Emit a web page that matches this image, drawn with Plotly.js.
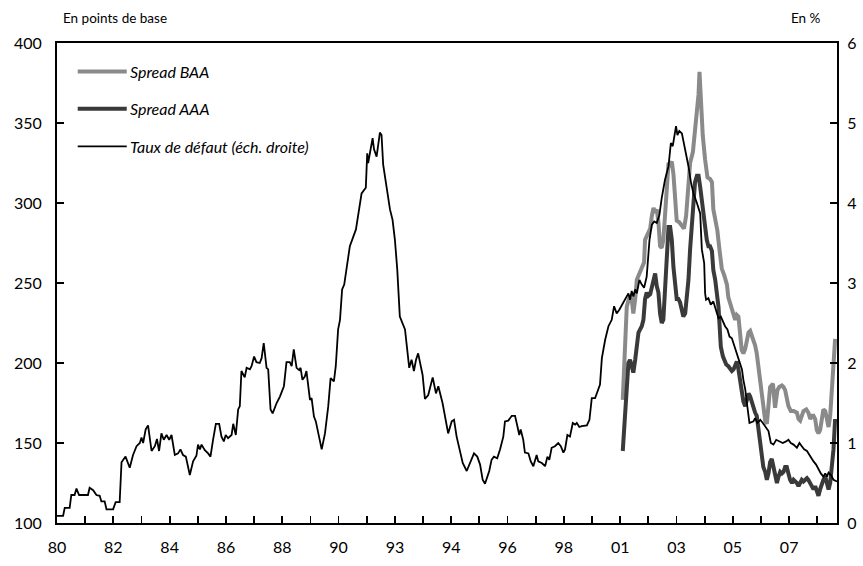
<!DOCTYPE html>
<html>
<head>
<meta charset="utf-8">
<script src="https://cdn.plot.ly/plotly-3.0.1.min.js"></script>
<style>html,body{margin:0;padding:0;background:#fff}#chart{width:863px;height:566px}</style>
</head>
<body>
<div id="chart"></div>
<script>
// x = month index from Jan 1980
const tickMonths = [0,12,24,36,48,60,72,84,96,108,120,132,144,156,168,180,192,204,216,228,240,252,264,276,288,300,312,324];
const tickLabels = ["80","","82","","84","","86","","88","","90","","93","","94","","96","","98","","01","","03","","05","","07",""];

// Taux de défaut (%, right axis)
const defMonth = [0,2.6,3.3,5.4,6.1,7.5,8.3,9.4,13.2,13.9,15.4,16.8,18.2,18.9,20.3,21.1,23.9,25.0,26.7,27.5,29.2,31.0,32.4,33.9,35.3,36.0,36.7,37.8,38.8,40.3,41.7,42.6,43.5,44.5,45.5,46.7,47.8,48.8,50.2,51.6,52.6,53.7,54.9,55.6,56.6,58.0,59.4,60.1,60.9,61.6,63.0,64.4,65.4,66.5,67.7,69.1,70.1,71.1,71.9,72.9,74.4,75.1,76.2,77.2,77.9,78.6,80.0,80.8,82.2,82.9,84.0,85.0,86.4,87.2,88.1,89.3,90.0,91.0,91.9,93.6,95.0,96.7,97.8,99.2,100.0,100.9,102.1,103.2,103.8,104.6,105.6,106.3,107.0,107.8,108.5,109.5,110.3,111.3,112.8,114.2,115.6,116.6,118.0,118.8,119.8,120.6,121.5,122.4,124.8,127.4,129.8,131.6,132.2,132.6,133.3,134.5,135.1,136.2,137.6,138.3,139.0,141.9,143.0,144.0,145.0,146.1,148.3,149.0,150.1,151.1,152.1,153.0,153.9,155.8,156.8,158.2,160.1,161.5,162.5,164.3,166.1,166.7,168.2,169.2,170.3,171.4,172.9,174.6,176.0,177.7,179.1,180.3,181.4,182.4,184.2,185.2,186.2,187.6,188.8,190.2,190.9,192.3,193.8,195.2,196.2,197.0,197.6,198.7,199.4,200.9,201.9,203.0,204.4,205.1,206.6,208.0,209.0,209.8,210.8,212.2,213.6,214.7,215.8,216.5,217.5,218.6,219.8,220.8,221.5,222.6,223.6,225.8,226.9,227.9,229.3,230.0,231.4,232.2,233.6,235.0,236.4,237.4,238.5,239.7,241.1,242.5,243.5,244.2,244.9,245.6,246.4,247.1,248.2,249.2,250.2,251.3,252.5,253.5,254.5,255.6,256.7,257.7,259.1,260.6,261.6,262.4,263.0,263.8,264.4,265.2,266.3,266.9,268.1,269.1,270.1,271.2,272.7,274.1,274.8,275.8,276.2,276.6,277.6,278.6,279.7,280.9,281.9,282.9,283.8,284.7,285.7,286.6,287.6,288.3,289.0,290.0,290.8,291.9,292.5,293.3,294.0,295.1,296.8,297.5,298.5,299.7,300.8,301.8,303.2,304.2,305.3,306.5,307.9,309.3,310.7,311.7,312.7,313.9,315.3,316.4,317.4,318.4,319.6,321.0,322.4,323.5,324.5,325.5,326.6,327.4,328.1,328.8,329.8,330.9,332.4];
const defRate = [0.09,0.09,0.19,0.19,0.35,0.35,0.43,0.35,0.35,0.44,0.41,0.35,0.34,0.27,0.27,0.17,0.17,0.26,0.26,0.76,0.83,0.69,0.85,0.96,1.0,1.07,1.0,1.17,1.22,0.9,0.96,1.05,0.9,1.12,1.04,1.1,1.04,1.1,0.85,0.87,0.92,0.85,0.83,0.75,0.6,0.77,0.84,0.98,0.92,0.98,0.91,0.87,0.83,1.04,1.24,1.24,1.08,1.02,1.1,1.06,1.1,1.24,1.1,1.42,1.46,1.9,1.82,1.94,1.92,1.96,2.08,2.01,2.0,2.06,2.25,1.94,1.92,1.42,1.37,1.5,1.58,1.71,2.01,2.01,1.96,2.17,1.94,1.91,1.94,1.79,1.83,1.9,1.75,1.54,1.56,1.33,1.27,1.12,0.92,1.12,1.46,1.81,1.77,1.96,2.42,2.54,2.92,2.98,3.46,3.67,4.12,4.19,4.62,4.5,4.62,4.81,4.67,4.58,4.88,4.85,4.48,3.92,3.79,3.54,3.17,2.58,2.42,2.25,1.94,2.04,1.9,2.04,2.12,1.85,1.55,1.6,1.82,1.62,1.71,1.5,1.21,1.12,1.27,1.29,1.08,0.94,0.75,0.65,0.75,0.87,0.83,0.73,0.54,0.49,0.65,0.79,0.83,0.81,0.92,1.08,1.27,1.28,1.34,1.34,1.21,1.1,1.17,1.04,0.88,0.87,0.77,0.71,0.85,0.77,0.75,0.71,0.83,0.79,0.94,0.96,1.0,0.96,0.88,0.92,1.1,1.08,1.25,1.23,1.25,1.2,1.21,1.22,1.29,1.56,1.56,1.62,1.73,2.06,2.29,2.46,2.54,2.71,2.62,2.67,2.75,2.81,2.87,2.79,2.9,2.83,2.92,2.87,3.04,2.98,2.94,3.08,3.54,3.73,3.77,3.75,3.85,4.06,4.29,4.46,4.75,4.71,4.81,4.96,4.85,4.9,4.87,4.79,4.62,4.46,4.27,4.12,4.0,3.87,3.42,3.25,2.87,2.79,2.81,2.73,2.77,2.65,2.56,2.58,2.52,2.46,2.42,2.33,2.31,2.25,2.17,2.08,2.02,1.92,1.79,1.67,1.5,1.25,1.27,1.31,1.25,1.29,1.25,1.21,1.15,1.0,0.98,1.04,1.02,1.0,1.02,1.04,1.0,0.98,0.94,1.0,0.96,0.92,0.9,0.83,0.77,0.73,0.67,0.62,0.58,0.62,0.58,0.63,0.6,0.54,0.52];

// Spread BAA (bp, left axis)
const baaMonth = [241.1,242.1,242.8,243.5,244.2,244.9,245.6,246.4,247.1,248.2,249.2,250.2,250.6,252.0,252.8,253.5,254.2,254.9,255.6,256.3,257.0,257.7,258.4,259.1,259.9,260.6,261.3,262.0,262.7,263.4,264.1,265.2,266.3,267.2,268.1,269.1,269.8,271.0,271.9,272.7,273.4,273.8,274.4,275.2,276.2,277.2,278.3,279.1,279.7,280.9,281.4,282.3,283.3,284.3,285.5,286.1,286.9,287.6,288.3,289.0,289.7,290.4,290.8,291.4,291.8,292.5,293.3,294.0,294.7,295.4,296.1,296.8,297.5,298.2,298.9,299.6,300.4,301.0,301.8,302.5,303.2,303.9,305.1,306.0,307.0,307.8,308.9,309.6,310.3,311.0,311.7,312.7,313.9,315.3,316.0,316.7,317.4,318.1,319.3,320.2,321.0,321.7,322.4,323.1,323.8,324.5,325.2,325.9,326.6,327.4,328.1,328.8,329.5,330.2,330.9,331.6];
const baaSpread = [177,218,235,239,242,240,231,240,252,256,260,263,277,281,284,292,297,294,296,288,273,272,277,292,310,325,324,326,318,300,289,288,286,284,292,308,325,332,345,354,368,382,358,342,327,316,315,313,296,288,283,271,259,255,249,241,237,232,229,227,230,229,223,210,208,206,209,214,219,220,217,214,211,206,198,188,177,171,164,162,175,185,187,172,183,185,186,185,183,179,173,170,170,169,165,164,167,170,171,169,165,167,167,165,158,156,158,167,171,170,163,160,167,183,202,215];

// Spread AAA (bp, left axis)
const aaaMonth = [241.1,242.1,242.8,243.5,244.2,244.9,245.6,246.4,247.1,247.8,248.5,249.2,249.9,250.6,251.3,252.0,252.8,253.5,254.2,254.9,255.6,256.3,257.0,257.7,258.4,259.1,259.9,260.6,261.3,262.0,262.7,263.4,264.1,264.8,265.5,266.3,266.9,267.7,268.4,269.1,269.8,270.5,271.2,271.9,272.7,273.4,274.1,274.8,275.5,276.2,276.9,277.6,278.3,279.1,279.7,280.5,281.2,281.9,282.3,282.9,283.8,284.3,285.2,286.1,286.9,287.6,288.3,289.0,289.7,290.4,291.1,291.8,292.5,293.3,294.0,294.7,295.4,296.1,296.8,297.5,298.2,298.9,299.6,300.4,301.0,301.8,302.5,303.2,303.9,304.6,305.3,306.0,306.8,307.5,308.2,308.9,309.6,310.3,311.0,311.7,312.4,313.2,313.9,314.6,315.3,316.0,316.7,317.4,318.1,318.9,319.6,320.2,321.0,321.7,322.4,323.1,323.8,324.5,325.2,325.9,326.6,327.4,328.1,328.8,329.5,330.2,330.9,331.6];
const aaaSpread = [145,169,183,200,202,198,194,202,213,219,221,223,227,240,244,242,243,248,252,256,248,244,231,225,227,248,271,285,285,277,260,248,240,240,238,233,229,231,240,252,271,285,302,313,317,317,310,302,292,283,277,273,273,270,258,252,244,235,225,210,204,202,199,198,196,195,196,198,201,196,190,183,176,173,177,181,179,175,171,169,167,158,150,142,135,132,127,131,138,140,135,129,125,129,132,131,132,135,135,131,127,125,127,126,125,123,125,127,126,127,128,127,125,123,121,123,119,117,121,125,127,129,125,121,125,135,146,165];

const legendNames = ["Spread BAA", "Spread AAA", "Taux de défaut (éch. droite)"];
const seriesColors = ["#8a8a8a", "#3a3a3a", "#000000"];
const seriesWidths = [4, 4, 1.8];

const FONT = "Lato, 'Open Sans', sans-serif";

const traces = [
  {x: baaMonth, y: baaSpread, yaxis: "y", type: "scatter", mode: "lines", name: legendNames[0],
   line: {color: seriesColors[0], width: seriesWidths[0], shape: "linear"}},
  {x: aaaMonth, y: aaaSpread, yaxis: "y", type: "scatter", mode: "lines", name: legendNames[1],
   line: {color: seriesColors[1], width: seriesWidths[1]}},
  {x: defMonth, y: defRate, yaxis: "y2", type: "scatter", mode: "lines", name: legendNames[2],
   line: {color: seriesColors[2], width: seriesWidths[2]}}
];

const L = 57.3, R = 836.7, T = 43.3, B = 523.3;
const W = R - L, H = B - T;
const px = v => (v - L) / W;
const py = v => 1 - (v - T) / H;

const legendY = [71.7, 109, 146.7];
const shapes = [];
const annotations = [];
for (let i = 0; i < 3; i++) {
  shapes.push({type: "line", xref: "paper", yref: "paper", x0: px(78), x1: px(127), y0: py(legendY[i]), y1: py(legendY[i]),
    line: {color: seriesColors[i], width: seriesWidths[i]}});
  annotations.push({xref: "paper", yref: "paper", x: px(128.5), y: py(legendY[i]), xanchor: "left", yanchor: "middle",
    text: "<i>" + legendNames[i] + "</i>", showarrow: false, font: {family: FONT, size: 16, color: "#000"}});
}
annotations.push({xref: "paper", yref: "paper", x: px(61), y: py(18), xanchor: "left", yanchor: "middle",
  text: "En points de base", showarrow: false, font: {family: FONT, size: 13.5, color: "#000"}});
annotations.push({xref: "paper", yref: "paper", x: px(823), y: py(18), xanchor: "right", yanchor: "middle",
  text: "En %", showarrow: false, font: {family: FONT, size: 13.5, color: "#000"}});

const layout = {
  width: 863, height: 566,
  margin: {l: L, r: 863 - R, t: T, b: 566 - B, pad: 0},
  paper_bgcolor: "#fff", plot_bgcolor: "#fff",
  showlegend: false,
  font: {family: FONT, size: 16, color: "#000"},
  xaxis: {
    range: [0, 332.4], tickmode: "array", tickvals: tickMonths, ticktext: tickLabels,
    ticks: "inside", ticklen: 7, tickwidth: 1.8, tickcolor: "#000",
    showline: true, linewidth: 2, linecolor: "#000", mirror: true,
    showgrid: false, zeroline: false, ticklabelstandoff: 9,
    tickfont: {family: FONT, size: 16}
  },
  yaxis: {
    range: [100, 400], tickvals: [100,150,200,250,300,350,400],
    ticks: "inside", ticklen: 7, tickwidth: 1.8, tickcolor: "#000",
    showline: true, linewidth: 2, linecolor: "#000",
    showgrid: false, zeroline: false, ticklabelstandoff: 10,
    tickfont: {family: FONT, size: 16}
  },
  yaxis2: {
    range: [0, 6], tickvals: [0,1,2,3,4,5,6], overlaying: "y", side: "right",
    ticks: "inside", ticklen: 7, tickwidth: 1.8, tickcolor: "#000",
    showline: true, linewidth: 2, linecolor: "#000",
    showgrid: false, zeroline: false, ticklabelstandoff: 5,
    tickfont: {family: FONT, size: 16}
  },
  shapes: shapes,
  annotations: annotations
};

Plotly.newPlot("chart", traces, layout, {staticPlot: true, displayModeBar: false});
</script>
</body>
</html>
